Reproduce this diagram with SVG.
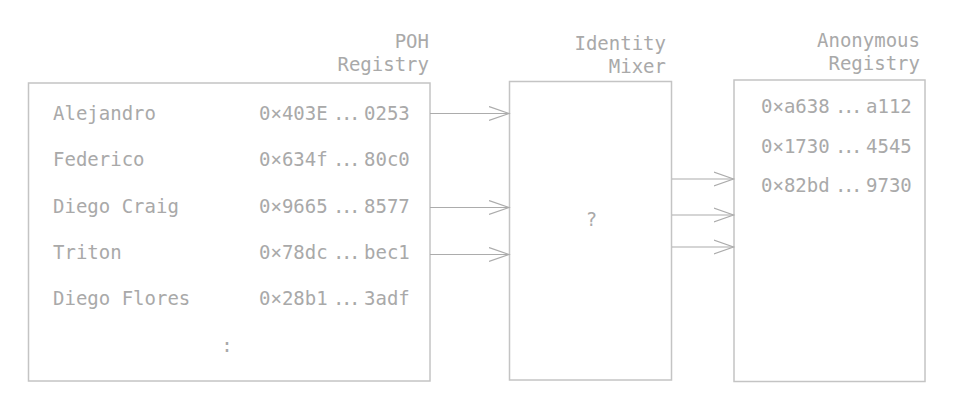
<svg xmlns="http://www.w3.org/2000/svg" width="960" height="414" viewBox="0 0 960 414">
<defs>
<style>
.t{font-family:"DejaVu Sans Mono","Liberation Mono",monospace;font-size:19px;fill:#a9a9a9}
.e{text-anchor:end}
.d{letter-spacing:-3.4px}
.box{fill:#fff;stroke:#c4c4c4;stroke-width:1.5}
.c{fill:none;stroke:#acacac;stroke-width:1.2}
</style>
<marker id="ah" markerWidth="22" markerHeight="18" refX="20" refY="8" orient="auto" markerUnits="userSpaceOnUse">
<path d="M0,1 L20,8 L0,15" fill="none" stroke="#acacac" stroke-width="1.2"/>
</marker>
</defs>
<rect width="960" height="414" fill="#fff"/>
<g id="poh-registry">
<text class="t e" x="429" y="48">POH</text>
<text class="t e" x="429" y="71">Registry</text>
<rect class="box" x="28.5" y="83" width="401.5" height="298"/>
<text class="t" x="53" y="120">Alejandro</text>
<text class="t" y="120"><tspan x="259">0×403E</tspan><tspan class="d" x="333">...</tspan><tspan x="364">0253</tspan></text>
<text class="t" x="53" y="166">Federico</text>
<text class="t" y="166"><tspan x="259">0×634f</tspan><tspan class="d" x="333">...</tspan><tspan x="364">80c0</tspan></text>
<text class="t" x="53" y="213">Diego Craig</text>
<text class="t" y="213"><tspan x="259">0×9665</tspan><tspan class="d" x="333">...</tspan><tspan x="364">8577</tspan></text>
<text class="t" x="53" y="259">Triton</text>
<text class="t" y="259"><tspan x="259">0×78dc</tspan><tspan class="d" x="333">...</tspan><tspan x="364">bec1</tspan></text>
<text class="t" x="53" y="305">Diego Flores</text>
<text class="t" y="305"><tspan x="259">0×28b1</tspan><tspan class="d" x="333">...</tspan><tspan x="364">3adf</tspan></text>
<text class="t" x="227" y="352" text-anchor="middle">:</text>
</g>
<g id="identity-mixer">
<text class="t e" x="666" y="50">Identity</text>
<text class="t e" x="666" y="73">Mixer</text>
<rect class="box" x="509.5" y="81.5" width="162" height="298.5"/>
<text class="t" x="591.5" y="226" text-anchor="middle">?</text>
</g>
<g id="anonymous-registry">
<text class="t e" x="920" y="47">Anonymous</text>
<text class="t e" x="920" y="70">Registry</text>
<rect class="box" x="734" y="80" width="191" height="301.5"/>
<text class="t" y="113"><tspan x="761">0×a638</tspan><tspan class="d" x="835">...</tspan><tspan x="866">a112</tspan></text>
<text class="t" y="153"><tspan x="761">0×1730</tspan><tspan class="d" x="835">...</tspan><tspan x="866">4545</tspan></text>
<text class="t" y="192"><tspan x="761">0×82bd</tspan><tspan class="d" x="835">...</tspan><tspan x="866">9730</tspan></text>
</g>
<g id="connectors">
<line class="c" x1="430" y1="113.5" x2="509" y2="113.5" marker-end="url(#ah)"/>
<line class="c" x1="430" y1="207.5" x2="509" y2="207.5" marker-end="url(#ah)"/>
<line class="c" x1="430" y1="254.5" x2="509" y2="254.5" marker-end="url(#ah)"/>
<line class="c" x1="672" y1="179" x2="733.5" y2="179" marker-end="url(#ah)"/>
<line class="c" x1="672" y1="215" x2="733.5" y2="215" marker-end="url(#ah)"/>
<line class="c" x1="672" y1="247" x2="733.5" y2="247" marker-end="url(#ah)"/>
</g>
</svg>
